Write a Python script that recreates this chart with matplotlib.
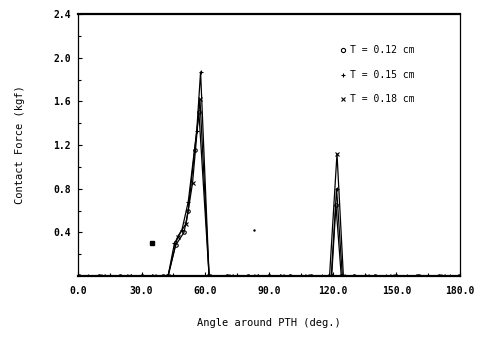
import matplotlib.pyplot as plt
import numpy as np

# contact force around the PTH for three thicknesses
angle_a = [0, 10, 20, 30, 40, 42.5, 46, 50, 52, 55, 57, 61.8, 70, 80, 90, 100, 110, 119.5, 121.5, 124, 130, 140, 150, 160, 170, 180]
force_a = [0, 0, 0, 0, 0, 0, 0.28, 0.40, 0.60, 1.15, 1.50, 0, 0, 0, 0, 0, 0, 0, 0.65, 0, 0, 0, 0, 0, 0, 0]

angle_b = [0, 5, 15, 25, 35, 42.5, 45.5, 49, 52, 56, 57.8, 61.8, 75, 85, 95, 105, 115, 119.3, 121.8, 124.5, 135, 145, 155, 165, 175, 180]
force_b = [0, 0, 0, 0, 0, 0, 0.30, 0.42, 0.68, 1.33, 1.87, 0, 0, 0, 0, 0, 0, 0, 0.80, 0, 0, 0, 0, 0, 0, 0]

angle_c = [0, 12, 24, 36, 42.5, 47, 51, 54, 57.5, 61.8, 72, 84, 96, 108, 118.5, 122, 125, 136, 148, 160, 172, 180]
force_c = [0, 0, 0, 0, 0, 0.36, 0.48, 0.85, 1.62, 0, 0, 0, 0, 0, 0, 1.12, 0, 0, 0, 0, 0, 0]

# isolated readings not joined to any curve
stray_angle = [35.0, 83.0]
stray_force = [0.30, 0.42]

labels = ['T = 0.12 cm', 'T = 0.15 cm', 'T = 0.18 cm']
markers = ['o', '+', 'x']

x_ticks = [0, 30, 60, 90, 120, 150, 180]
y_ticks = [0.4, 0.8, 1.2, 1.6, 2.0, 2.4]

plt.rcParams['font.family'] = ['DejaVu Sans Mono']

fig = plt.figure(figsize=(4.86, 3.42), dpi=100)
ax = fig.add_axes([0.160, 0.193, 0.787, 0.766])

series = [(angle_a, force_a), (angle_b, force_b), (angle_c, force_c)]
for (xs, ys), m in zip(series, markers):
    ax.plot(xs, ys, color='black', lw=0.9, marker=m, ms=2.5, mew=0.8,
            mfc='none' if m == 'o' else 'black')
ax.plot(stray_angle[:1], stray_force[:1], ls='none', marker='s', ms=2.5, color='black')
ax.plot(stray_angle[1:], stray_force[1:], ls='none', marker='.', ms=1.5, color='black')

ax.set_xlim(0, 180)
ax.set_ylim(0, 2.4)
ax.set_xticks(x_ticks)
ax.set_xticklabels(['%.1f' % v for v in x_ticks])
ax.set_yticks(y_ticks)
ax.set_yticklabels(['%.1f' % v for v in y_ticks])
ax.set_yticks(np.arange(0.2, 2.4, 0.4), minor=True)
ax.set_xticks(np.arange(15, 180, 30), minor=True)
ax.tick_params(which='both', direction='in', labelsize=7, width=0.8)
ax.tick_params(which='major', length=3)
ax.tick_params(which='minor', length=2)
ax.tick_params(axis='x', pad=7)
ax.tick_params(axis='y', pad=5)
for lab in ax.get_xticklabels() + ax.get_yticklabels():
    lab.set_fontweight('bold')

for side in ['top', 'bottom']:
    ax.spines[side].set_linewidth(1.6)
for side in ['left', 'right']:
    ax.spines[side].set_linewidth(0.9)

ax.set_xlabel('Angle around PTH (deg.)', fontsize=7.5, labelpad=16)
ax.set_ylabel('Contact Force (kgf)', fontsize=7.5, labelpad=20)

# legend written as plain text lines in the upper right
for i, (lab, m) in enumerate(zip(labels, markers)):
    y = 0.863 - i * 0.094
    ax.plot([0.693], [y], transform=ax.transAxes, marker=m, ms=3, mew=0.8,
            color='black', mfc='none' if m == 'o' else 'black', clip_on=False)
    ax.text(0.711, y, lab, transform=ax.transAxes, fontsize=7, va='center', ha='left')

fig.savefig('out.png', dpi=100)
